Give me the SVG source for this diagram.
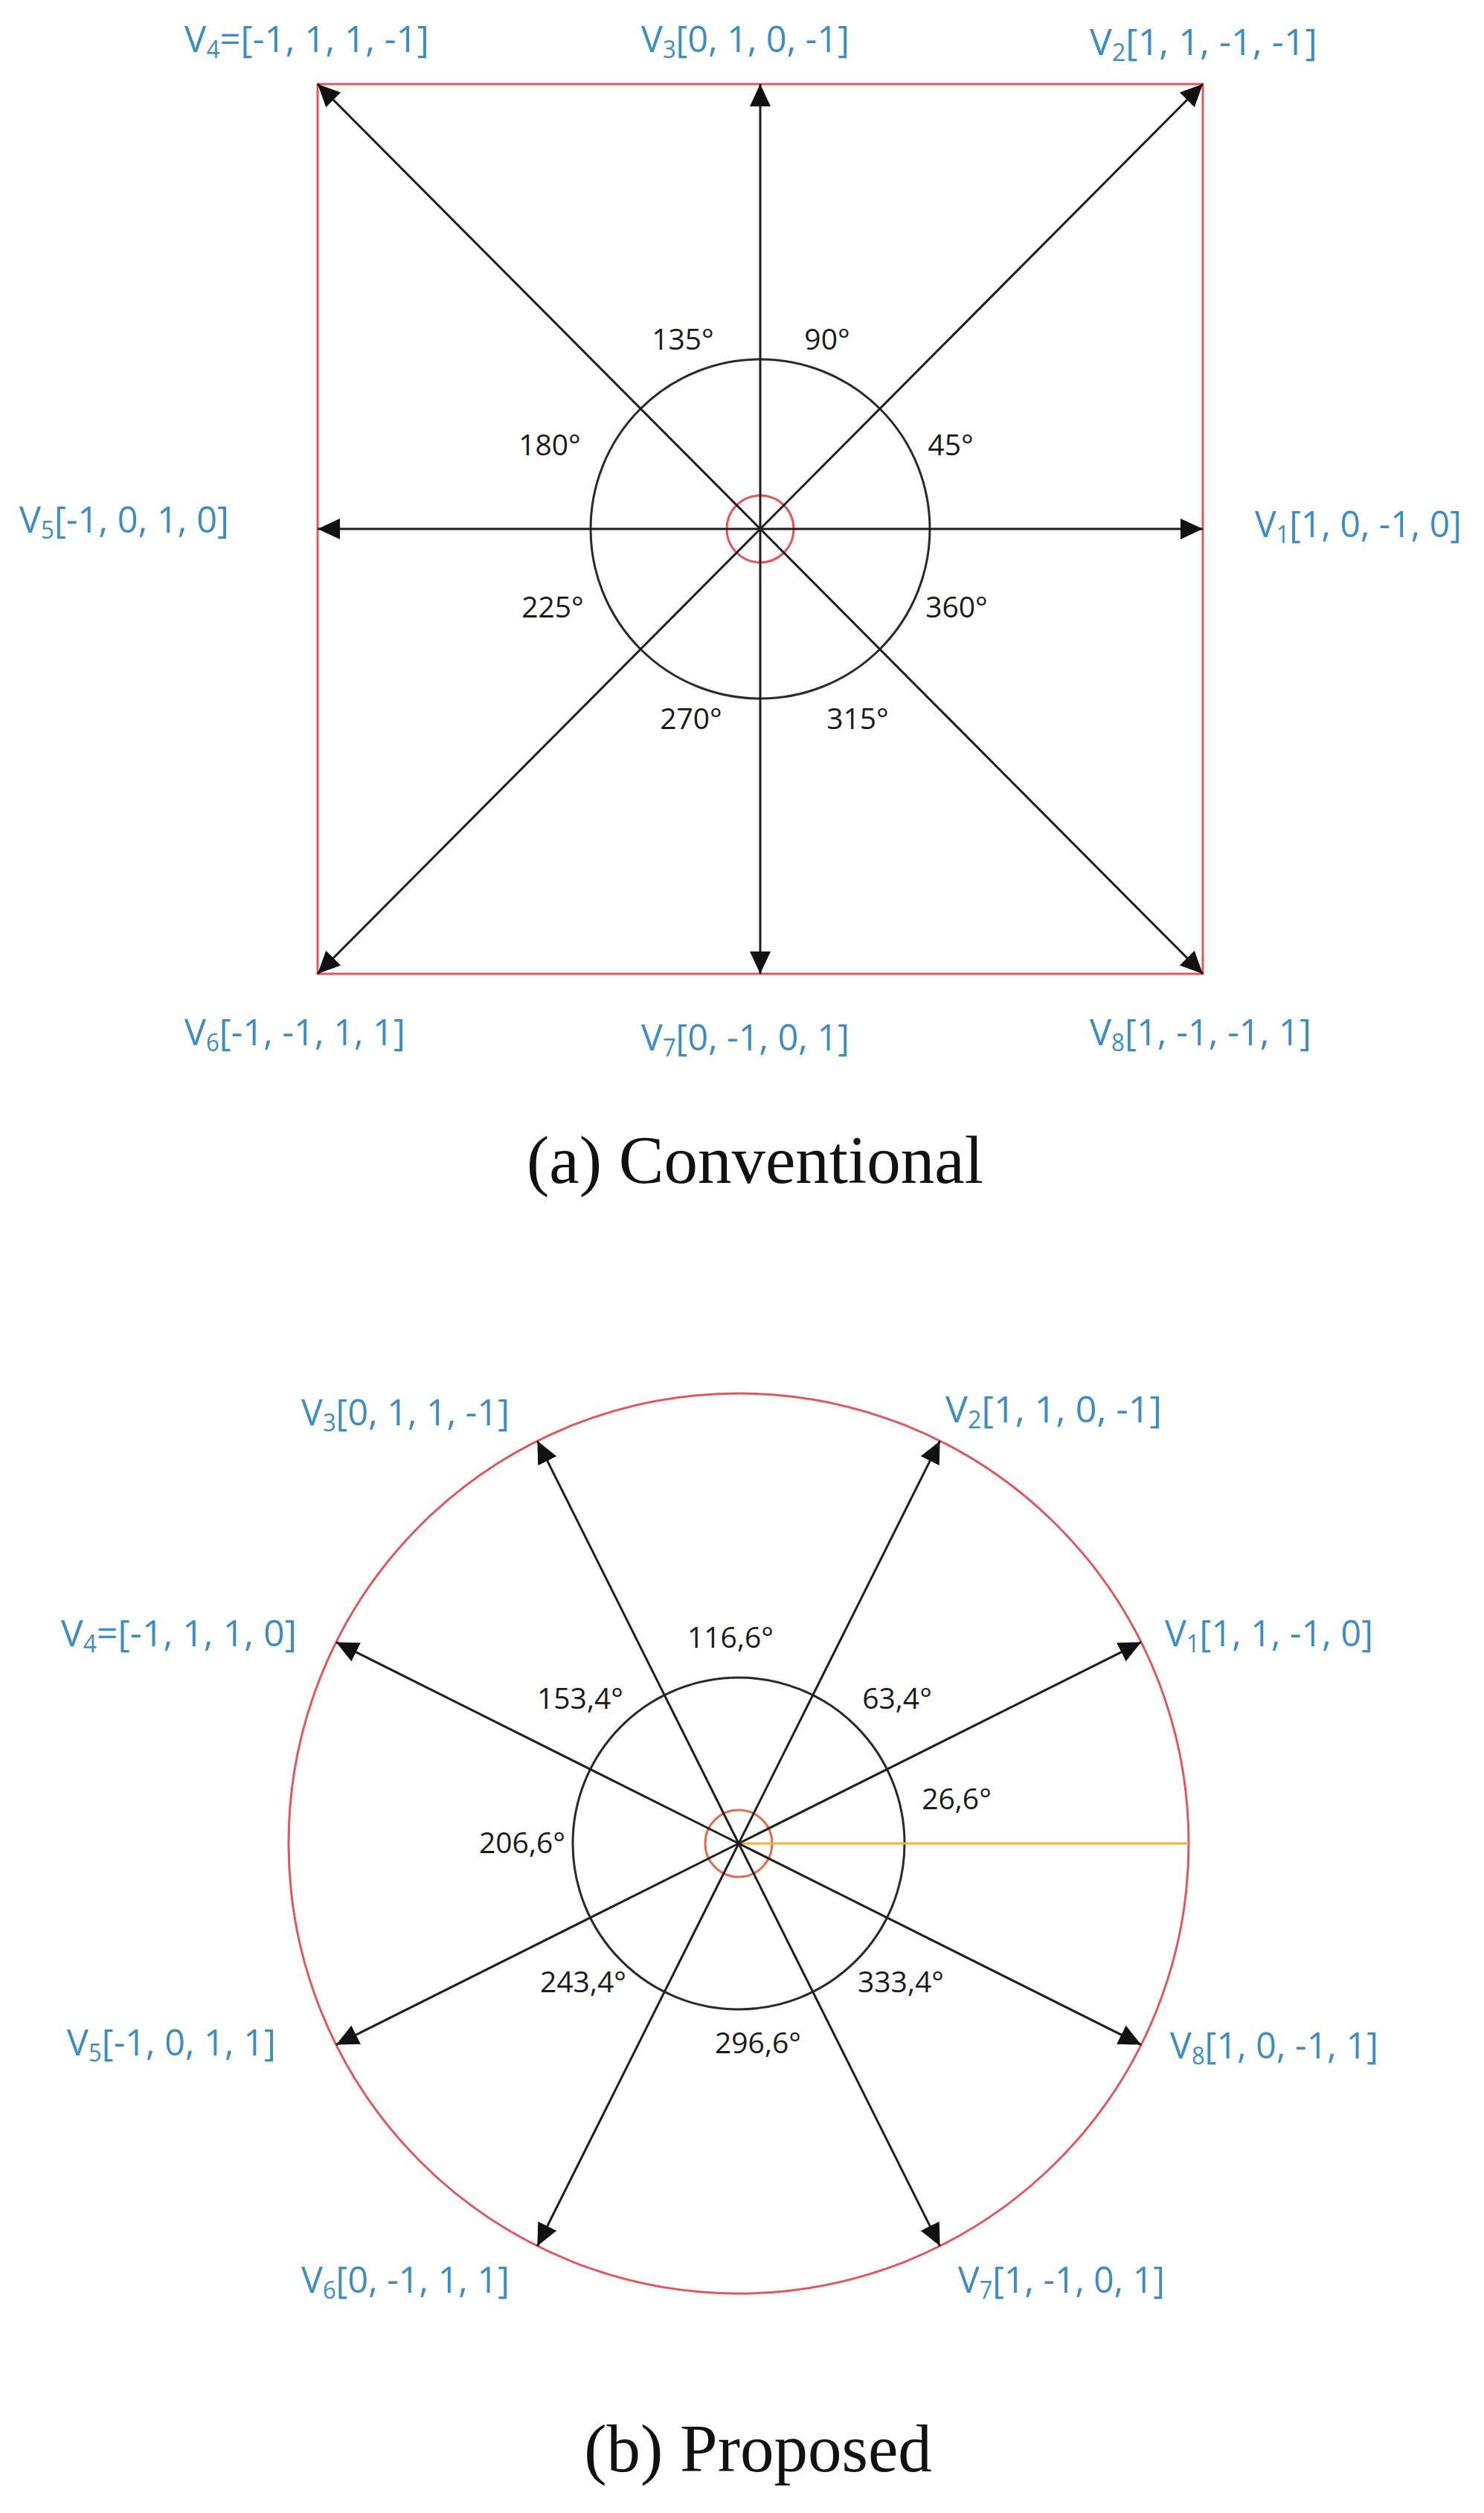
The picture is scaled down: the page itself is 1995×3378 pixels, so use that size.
<svg xmlns="http://www.w3.org/2000/svg" width="1995" height="3378" viewBox="0 0 1995 3378">
<style>
.lbl{font-family:"Open Sans","Noto Sans",sans-serif;font-size:50px;fill:#3d8cc4}
.sub{font-size:32px}
.ang{font-family:"Open Sans","Noto Sans",sans-serif;font-size:39px;fill:#1a1a1a;text-anchor:middle}
.cap{font-family:"Liberation Serif","Times New Roman",serif;font-size:91px;fill:#111;text-anchor:middle}
.arr{stroke:#1e1e1e;stroke-width:3;fill:none;marker-end:url(#ah)}
.blk{stroke:#2a2a2a;stroke-width:3;fill:none}
.red{stroke:#e0585c;stroke-width:3;fill:none}
</style>
<defs>
<marker id="ah" viewBox="0 0 30 28" refX="30" refY="14" markerWidth="30" markerHeight="28" markerUnits="userSpaceOnUse" orient="auto">
<path d="M0,0 L30,14 L0,28 z" fill="#111"/>
</marker>
</defs>
<rect width="1995" height="3378" fill="#fff"/>

<!-- (a) Conventional -->
<g id="frame-a">
<rect x="427" y="113" width="1190" height="1196" class="red"/>
<circle cx="1022" cy="711" r="228" class="blk"/>
<circle cx="1022" cy="711" r="45" class="red"/>
</g>
<g id="connectors-a">
<line x1="1022" y1="711" x2="1617" y2="711" class="arr"/>
<line x1="1022" y1="711" x2="1617" y2="113" class="arr"/>
<line x1="1022" y1="711" x2="1022" y2="113" class="arr"/>
<line x1="1022" y1="711" x2="427" y2="113" class="arr"/>
<line x1="1022" y1="711" x2="427" y2="711" class="arr"/>
<line x1="1022" y1="711" x2="427" y2="1309" class="arr"/>
<line x1="1022" y1="711" x2="1022" y2="1309" class="arr"/>
<line x1="1022" y1="711" x2="1617" y2="1309" class="arr"/>
</g>
<g id="a-V4"><text class="lbl" x="248" y="70" textLength="329" lengthAdjust="spacingAndGlyphs">V<tspan class="sub" dy="8">4</tspan><tspan dy="-8">=[-1, 1, 1, -1]</tspan></text></g>
<g id="a-V3"><text class="lbl" x="862" y="70" textLength="280" lengthAdjust="spacingAndGlyphs">V<tspan class="sub" dy="8">3</tspan><tspan dy="-8">[0, 1, 0, -1]</tspan></text></g>
<g id="a-V2"><text class="lbl" x="1465" y="74" textLength="306" lengthAdjust="spacingAndGlyphs">V<tspan class="sub" dy="8">2</tspan><tspan dy="-8">[1, 1, -1,  -1]</tspan></text></g>
<g id="a-V5"><text class="lbl" x="26" y="716" textLength="282" lengthAdjust="spacingAndGlyphs">V<tspan class="sub" dy="8">5</tspan><tspan dy="-8">[-1, 0, 1, 0]</tspan></text></g>
<g id="a-V1"><text class="lbl" x="1687" y="722" textLength="278" lengthAdjust="spacingAndGlyphs">V<tspan class="sub" dy="8">1</tspan><tspan dy="-8">[1, 0, -1, 0]</tspan></text></g>
<g id="a-V6"><text class="lbl" x="248" y="1405" textLength="297" lengthAdjust="spacingAndGlyphs">V<tspan class="sub" dy="8">6</tspan><tspan dy="-8">[-1, -1, 1, 1]</tspan></text></g>
<g id="a-V7"><text class="lbl" x="862" y="1412" textLength="280" lengthAdjust="spacingAndGlyphs">V<tspan class="sub" dy="8">7</tspan><tspan dy="-8">[0, -1, 0, 1]</tspan></text></g>
<g id="a-V8"><text class="lbl" x="1465" y="1405" textLength="298" lengthAdjust="spacingAndGlyphs">V<tspan class="sub" dy="8">8</tspan><tspan dy="-8">[1, -1, -1, 1]</tspan></text></g>
<g id="a-angles">
<text class="ang" x="918" y="470">135°</text>
<text class="ang" x="1112" y="470">90°</text>
<text class="ang" x="1278" y="612">45°</text>
<text class="ang" x="739" y="612">180°</text>
<text class="ang" x="743" y="830">225°</text>
<text class="ang" x="1286" y="830">360°</text>
<text class="ang" x="929" y="980">270°</text>
<text class="ang" x="1153" y="980">315°</text>
</g>
<g id="caption-a"><text class="cap" x="1015" y="1590">(a) Conventional</text></g>

<!-- (b) Proposed -->
<g id="frame-b">
<circle cx="993" cy="2478" r="605" class="red"/>
<circle cx="993" cy="2478" r="223" class="blk"/>
<circle cx="993" cy="2478" r="45" stroke="#e07050" stroke-width="3" fill="none"/>
<line x1="993" y1="2478" x2="1598" y2="2478" stroke="#f0b040" stroke-width="3"/>
</g>
<g id="connectors-b">
<line x1="993" y1="2478" x2="1534.1" y2="2207.4" class="arr"/>
<line x1="993" y1="2478" x2="1263.6" y2="1936.9" class="arr"/>
<line x1="993" y1="2478" x2="722.4" y2="1936.9" class="arr"/>
<line x1="993" y1="2478" x2="451.9" y2="2207.4" class="arr"/>
<line x1="993" y1="2478" x2="451.9" y2="2748.6" class="arr"/>
<line x1="993" y1="2478" x2="722.4" y2="3019.1" class="arr"/>
<line x1="993" y1="2478" x2="1263.6" y2="3019.1" class="arr"/>
<line x1="993" y1="2478" x2="1534.1" y2="2748.6" class="arr"/>
</g>
<g id="b-V3"><text class="lbl" x="405" y="1916" textLength="280" lengthAdjust="spacingAndGlyphs">V<tspan class="sub" dy="8">3</tspan><tspan dy="-8">[0, 1, 1, -1]</tspan></text></g>
<g id="b-V2"><text class="lbl" x="1271" y="1912" textLength="291" lengthAdjust="spacingAndGlyphs">V<tspan class="sub" dy="8">2</tspan><tspan dy="-8">[1, 1, 0,  -1]</tspan></text></g>
<g id="b-V4"><text class="lbl" x="82" y="2213" textLength="317" lengthAdjust="spacingAndGlyphs">V<tspan class="sub" dy="8">4</tspan><tspan dy="-8">=[-1, 1, 1, 0]</tspan></text></g>
<g id="b-V1"><text class="lbl" x="1566" y="2213" textLength="280" lengthAdjust="spacingAndGlyphs">V<tspan class="sub" dy="8">1</tspan><tspan dy="-8">[1, 1, -1, 0]</tspan></text></g>
<g id="b-V5"><text class="lbl" x="90" y="2763" textLength="281" lengthAdjust="spacingAndGlyphs">V<tspan class="sub" dy="8">5</tspan><tspan dy="-8">[-1, 0, 1, 1]</tspan></text></g>
<g id="b-V8"><text class="lbl" x="1573" y="2767" textLength="280" lengthAdjust="spacingAndGlyphs">V<tspan class="sub" dy="8">8</tspan><tspan dy="-8">[1, 0, -1, 1]</tspan></text></g>
<g id="b-V6"><text class="lbl" x="405" y="3082" textLength="280" lengthAdjust="spacingAndGlyphs">V<tspan class="sub" dy="8">6</tspan><tspan dy="-8">[0, -1, 1, 1]</tspan></text></g>
<g id="b-V7"><text class="lbl" x="1288" y="3082" textLength="278" lengthAdjust="spacingAndGlyphs">V<tspan class="sub" dy="8">7</tspan><tspan dy="-8">[1, -1, 0, 1]</tspan></text></g>
<g id="b-angles">
<text class="ang" x="982" y="2215">116,6°</text>
<text class="ang" x="780" y="2297">153,4°</text>
<text class="ang" x="1206" y="2297">63,4°</text>
<text class="ang" x="1286" y="2432">26,6°</text>
<text class="ang" x="702" y="2491">206,6°</text>
<text class="ang" x="784" y="2678">243,4°</text>
<text class="ang" x="1211" y="2678">333,4°</text>
<text class="ang" x="1019" y="2760">296,6°</text>
</g>
<g id="caption-b"><text class="cap" x="1019" y="3322">(b) Proposed</text></g>
</svg>
